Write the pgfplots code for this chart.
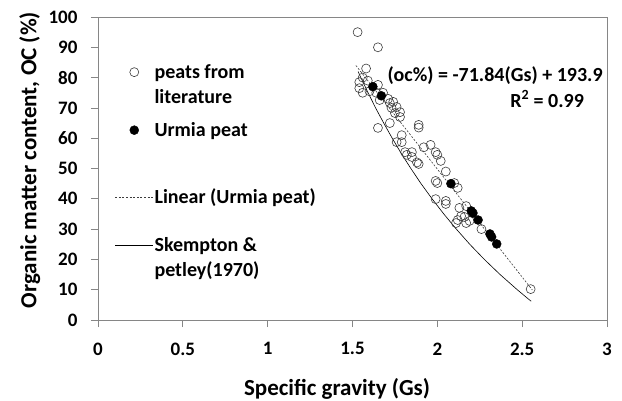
\documentclass[border=0pt]{standalone}
\usepackage{pgfplots}
\pgfplotsset{compat=1.18}
\usepackage{fontspec}
\setmainfont{Carlito}
\definecolor{axgray}{RGB}{134,134,134}
\definecolor{mk}{RGB}{60,60,60}
\pgfplotsset{
  legimg/.style={legend image code/.code={%
    \draw[mark repeat=2,mark phase=2,##1] plot coordinates {(0pt,-10pt)(19pt,-10pt)(38pt,-10pt)};}},
}
\begin{document}
\begin{tikzpicture}
\begin{axis}[name=ax,
  scale only axis, width=509pt, height=303pt,
  xmin=0, xmax=3, ymin=0, ymax=100,
  xtick={0,0.5,...,3}, ytick={0,10,...,100},
  tick pos=left, tick align=outside, major tick length=7pt,
  axis line style={axgray, line width=0.8pt},
  every tick/.style={axgray, line width=0.8pt},
  /pgf/number format/assume math mode=true,
  ticklabel style={font=\fontsize{19}{22}\selectfont\bfseries},
  xticklabel style={yshift=-12pt},
  yticklabel style={xshift=-10pt},
  xlabel={Specific gravity (Gs)},
  ylabel={Organic matter content, OC (\%)},
  label style={font=\fontsize{23}{27}\selectfont\bfseries},
  xlabel style={at={(axis description cs:0.4696,-0.228)}, anchor=center},
  ylabel style={at={(axis description cs:-0.134,0.528)}, anchor=center},
  clip=false,
  legimg,
  legend style={draw=none, fill=none, inner sep=0pt, outer sep=0pt,
    at={(axis cs:0.1,85.1)}, anchor=north west,
    font=\fontsize{20}{25}\selectfont\bfseries, row sep=0pt, column sep=1pt,
    nodes={inner sep=0pt, text depth=},
    cells={anchor=north west, align=left, inner sep=0pt, text depth=}},
]
\addplot[only marks, mark=o, mark size=4.5pt, mark options={mk, line width=0.6pt}] table {
x y
1.53 95
1.65 90
1.58 83
1.56 80
1.54 78.5
1.59 79
1.65 77.6
1.54 76.5
1.56 75
1.60 75.5
1.64 75
1.68 75
1.71 73
1.66 72.6
1.72 71.6
1.74 72
1.73 70
1.76 70.3
1.78 68.6
1.75 68.3
1.78 67
1.72 65
1.65 63.4
1.89 64.4
1.89 63.5
1.79 61
1.76 58.7
1.79 58.7
1.81 55.4
1.85 55.4
1.82 54.5
1.85 53.8
1.88 52
1.89 51.5
1.92 57
1.96 57.8
1.99 55.4
2.00 54.5
2.02 52.5
2.05 49
1.99 45.9
2.00 45.2
2.10 45.2
2.12 43.6
1.99 39.9
2.05 39.3
2.05 38.3
2.13 37
2.17 37.6
2.14 34.3
2.16 34
2.11 32
2.12 33
2.17 32
2.19 32.7
2.26 30
2.55 10.2
};
\addlegendentry{\rule{0pt}{16pt}peats from\\literature\rule[-17pt]{0pt}{0pt}}
\addplot[only marks, mark=*, mark size=4.5pt, mark options={black, fill=black}] table {
x y
1.62 77
1.67 74
2.08 45
2.20 36
2.21 35.3
2.24 33
2.31 28.4
2.32 27.4
2.35 25.1
};
\addlegendentry{\rule[-51pt]{0pt}{67pt}Urmia peat}
\addplot[mk, line width=0.6pt, dash pattern=on 2pt off 1.6pt] table {
x y
1.52 84.0
2.56 9.9
};
\addlegendentry{\rule[-32pt]{0pt}{48pt}Linear (Urmia peat)}
\addplot[black, line width=0.6pt] table {
x y
1.533 82
1.549 80
1.592 75
1.636 70
1.684 65
1.734 60
1.787 55
1.844 50
1.904 45
1.969 40
2.038 35
2.112 30
2.191 25
2.277 20
2.370 15
2.471 10
2.535 7
2.553 6.2
};
\addlegendentry{\rule{0pt}{16pt}Skempton \&\\petley(1970)}
\node[font=\fontsize{20}{24}\selectfont\bfseries] at (axis cs:2.341,80.5) {(oc\%) = -71.84(Gs) + 193.9};
\node[font=\fontsize{20}{24}\selectfont\bfseries] at (axis cs:2.647,72.9) {R\textsuperscript{2} = 0.99};
\end{axis}
\pgfresetboundingbox
\path[use as bounding box] ([shift={(-98pt,-80pt)}]ax.south west) rectangle ([shift={(15pt,17pt)}]ax.north east);
\end{tikzpicture}
\end{document}
